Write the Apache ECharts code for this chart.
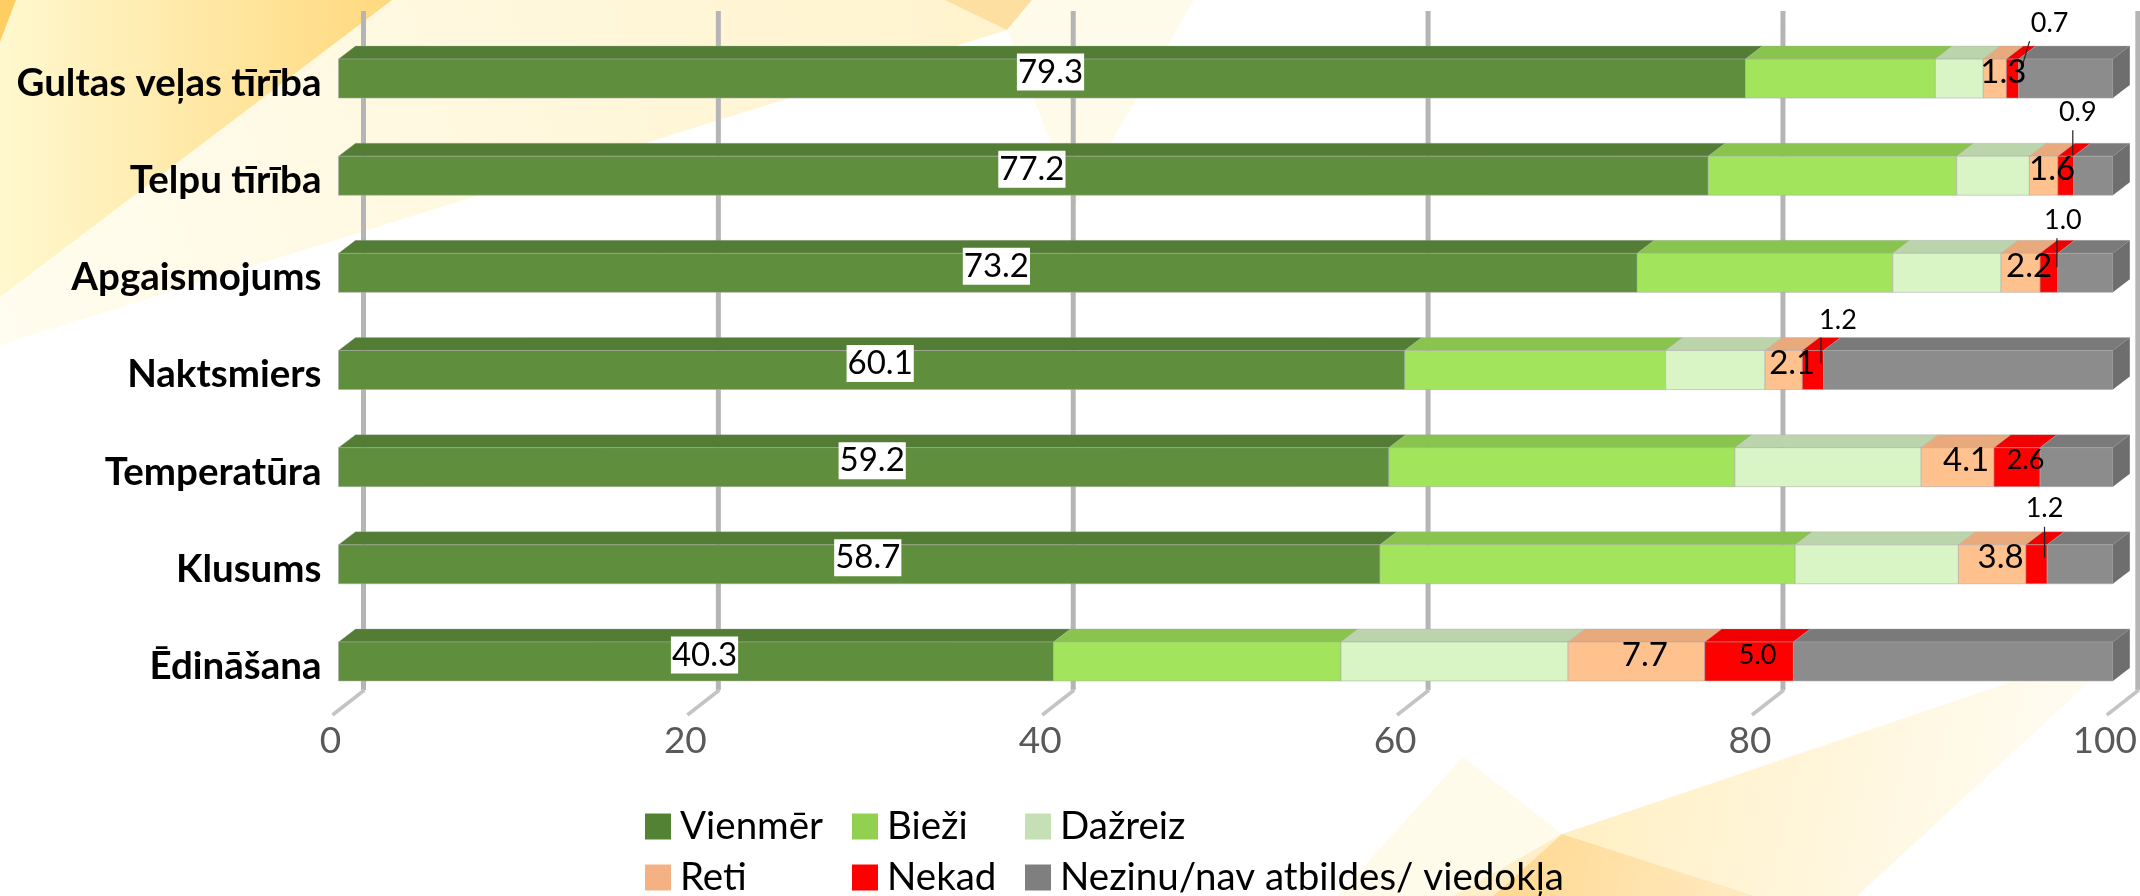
<!DOCTYPE html>
<html><head><meta charset="utf-8">
<style>html,body{margin:0;padding:0;background:#fff}#c{width:2140px;height:896px}</style>
<script src="https://cdn.jsdelivr.net/npm/echarts@6/dist/echarts.min.js"></script></head>
<body><div id="c"></div>
<script>
const categories = ['Gultas veļas tīrība','Telpu tīrība','Apgaismojums','Naktsmiers','Temperatūra','Klusums','Ēdināšana'];
const vienmer = [79.3,77.2,73.2,60.1,59.2,58.7,40.3];
const biezi   = [10.7,14.0,14.4,14.7,19.5,23.4,16.2];
const dazreiz = [2.7,4.1,6.1,5.6,10.5,9.2,12.8];
const reti    = [1.3,1.6,2.2,2.1,4.1,3.8,7.7];
const nekad   = [0.7,0.9,1.0,1.2,2.6,1.2,5.0];
const nezinu  = [5.3,2.2,3.1,16.3,4.1,3.7,18.0];
const xTicks  = [0,20,40,60,80,100];

const FONT = 'Lato, Carlito, "Noto Sans", sans-serif';
const DX = 17, DY = 13, GRID_DX = 25;
const styles = [
 {name:'Vienmēr', values:vienmer, legend:'#548235', front:'#5F8F3C', top:'#537D34', label:{size:33, bg:'#fff'}},
 {name:'Bieži',   values:biezi,   legend:'#92D050', front:'#A2E55C', top:'#89C44F'},
 {name:'Dažreiz', values:dazreiz, legend:'#C5E0B4', front:'#D9F5C6', top:'#BBD4AB'},
 {name:'Reti',    values:reti,    legend:'#F4B183', front:'#FFC18E', top:'#E8A97D', label:{size:33}},
 {name:'Nekad',   values:nekad,   legend:'#FF0000', front:'#FF0000', top:'#F00000', label:{size:27}},
 {name:'Nezinu/nav atbildes/ viedokļa', values:nezinu, legend:'#7F7F7F', front:'#8C8C8C', top:'#7A7A7A', side:'#6E6E6E'}
];
// small-value labels lifted above the bar: [labelDx,labelDy, lineTopDx,lineTopDy, lineEndDx,lineEndDy]
const lifted = {0:[37,-23,17,-5,9,22],1:[12,-31,7,-13,7,12],2:[14,-20,8,-2,8,27],3:[25,-17,8,0,8,26],5:[8,-23,8,-5,8,26]};

function grad(x,y,x2,y2,a,b){return {type:'linear',x,y,x2,y2,global:false,colorStops:[{offset:0,color:a},{offset:1,color:b}]};}
function poly(points,fill){return {type:'polygon',silent:true,z:-5,shape:{points},style:{fill}};}
const backdrop = [
 poly([[0,0],[1032,0],[1007,30],[0,345]], grad(0,1,1,0,'#FFFDF0','#FFF3CC')),
 poly([[0,0],[392,0],[0,297]], grad(0,0,1,0,'#FFF8CF','#FFD97E')),
 poly([[0,0],[16,0],[0,42]], '#FFCE63'),
 poly([[945,0],[1032,0],[1007,30]], '#FDDFA2'),
 poly([[1007,30],[1032,0],[1194,0],[1075,205]], '#FFFBEB'),
 poly([[1463,757],[1562,834],[1453,896],[1337,896]], '#FFFBEA'),
 poly([[1562,834],[2135,640],[1857,896],[1755,896]], grad(0,0.55,0.8,0.95,'#FFEFC2','#FFFBF0')),
 poly([[1562,834],[1493,896],[1453,896]], '#FFEFC8'),
 poly([[1562,834],[1755,896],[1493,896]], grad(0,0.2,1,1,'#FFD88E','#FFEBC4'))
];

function barRender(s){
 return function(params,api){
  const i = api.value(2), band = api.size([0,1])[1], h = band*0.4015;
  const p0 = api.coord([api.value(0),i]), p1 = api.coord([api.value(1),i]);
  const x0=p0[0], x1=p1[0], y0=p0[1]-h/2, y1=y0+h;
  const edge='rgba(170,170,170,0.55)';
  const kids=[
   {type:'polygon',shape:{points:[[x0,y0],[x0+DX,y0-DY],[x1+DX,y0-DY],[x1,y0]]},style:{fill:s.top,stroke:edge,lineWidth:0.6}},
   {type:'rect',shape:{x:x0,y:y0,width:x1-x0,height:h},style:{fill:s.front,stroke:edge,lineWidth:1}}
  ];
  if(s.side) kids.push({type:'polygon',shape:{points:[[x1,y0],[x1+DX,y0-DY],[x1+DX,y1-DY],[x1,y1]]},style:{fill:s.side}});
  if(s.label){
   const v=api.value(3), mid=(x0+x1)/2, lift=(s.name==='Nekad')?lifted[i]:null;
   let tx=mid+DX/2, ty=y0-DY+(h+DY)/2, size=s.label.size;
   if(lift){
     const barTop=y0-DY;
     tx=mid+lift[0]; ty=barTop+lift[1]; size=27;
     kids.push({type:'line',z2:20,shape:{x1:mid+lift[2],y1:barTop+lift[3],x2:mid+lift[4],y2:barTop+lift[5]},style:{stroke:'#222',lineWidth:1.2}});
   }
   kids.push({type:'text',z2:30,style:{text:v.toFixed(1),x:tx,y:ty,align:'center',verticalAlign:'middle',
     font:size+'px '+FONT,fill:'#000',backgroundColor:s.label.bg||null,padding:s.label.bg?[2,1,2,1]:0}});
  }
  return {type:'group',children:kids};
 };
}
function wallRender(params,api){
 const c=params.coordSys, x=api.coord([api.value(0),0])[0]+GRID_DX;
 const yTop=c.y-19, yBot=c.y+c.height-20;
 return {type:'group',children:[
  {type:'line',shape:{x1:x,y1:yTop,x2:x,y2:yBot},style:{stroke:'#B5B5B5',lineWidth:5}},
  {type:'polyline',shape:{points:[[x+1,yBot],[x-31,yBot+25]]},style:{stroke:'#C4C4C4',lineWidth:3.5,fill:null}}
 ]};
}
const seriesList=[{type:'custom',name:'wall',silent:true,z:1,data:xTicks.map(v=>[v]),encode:{x:0},renderItem:wallRender}];
styles.forEach(s=>{
 let run=[0,0,0,0,0,0,0];
 styles.slice(0,styles.indexOf(s)).forEach(p=>p.values.forEach((v,k)=>run[k]+=v));
 seriesList.push({type:'custom',name:s.name,z:2,itemStyle:{color:s.legend},
  data:s.values.map((v,k)=>{const a=+run[k].toFixed(1);return [a,+(a+v).toFixed(1),k,v];}),
  encode:{x:[0,1],y:2},renderItem:barRender(s)});
});
const legendAt=(name,left,top)=>({data:[name],left,top,padding:0,icon:'rect',itemWidth:26,itemHeight:26,
 textStyle:{fontFamily:FONT,fontSize:38.5,color:'#000',padding:[0,0,0,4]}});
const chart=echarts.init(document.getElementById('c'),null,{renderer:'canvas'});
chart.setOption({
 animation:false,backgroundColor:'#fff',
 graphic:{elements:backdrop},
 grid:{left:338.5,top:30,width:1775,height:680,containLabel:false},
 xAxis:{type:'value',min:0,max:100,interval:20,splitLine:{show:false},axisLine:{show:false},axisTick:{show:false},
  axisLabel:{color:'#595959',fontFamily:FONT,fontSize:37,margin:13,padding:[0,16,0,0],showMinLabel:true,showMaxLabel:true,hideOverlap:false}},
 yAxis:{type:'category',inverse:true,data:categories,axisLine:{show:false},axisTick:{show:false},splitLine:{show:false},
  axisLabel:{color:'#000',fontFamily:FONT,fontWeight:'bold',fontSize:38.5,margin:17,verticalAlign:'top',lineHeight:10}},
 legend:[
  legendAt('Vienmēr',645,807), legendAt('Bieži',852,807), legendAt('Dažreiz',1025,807),
  legendAt('Reti',645,858), legendAt('Nekad',852,858), legendAt('Nezinu/nav atbildes/ viedokļa',1025,858)
 ],
 series:seriesList
});
</script></body></html>
